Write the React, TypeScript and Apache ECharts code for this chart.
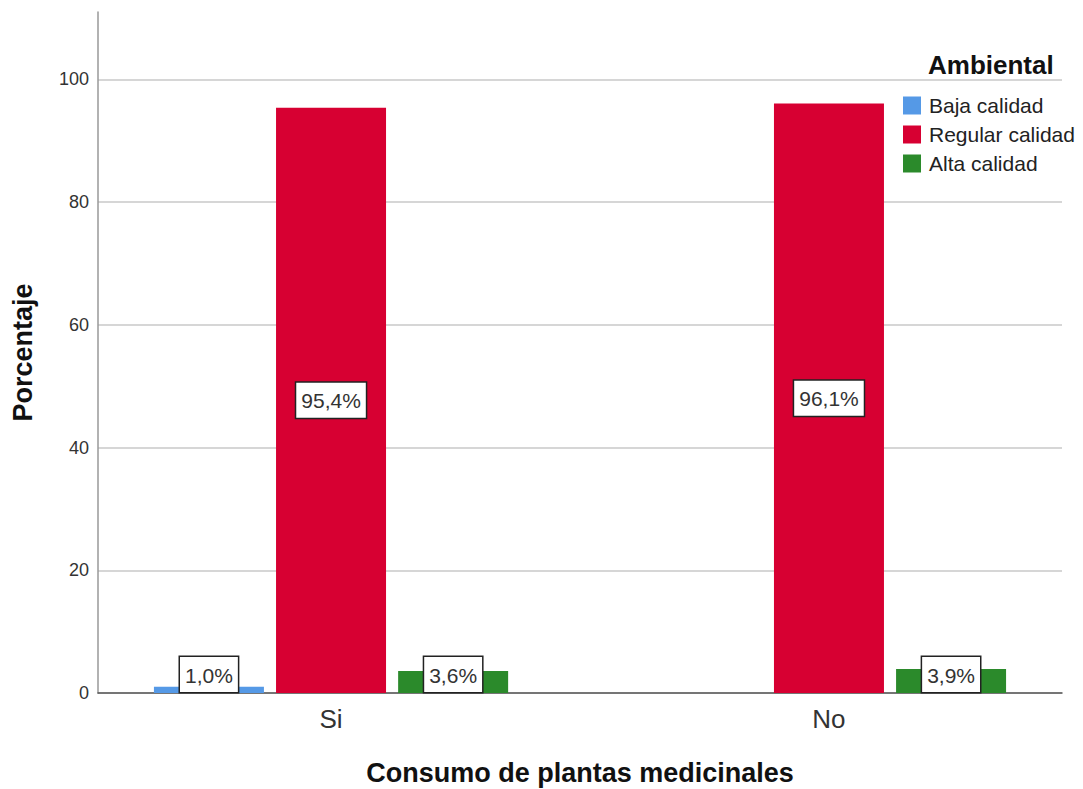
import React, { useEffect, useRef } from "react";
import * as echarts from "echarts";

const categories = ["Si", "No"];
const seriesNames = ["Baja calidad", "Regular calidad", "Alta calidad"];
const bajaValues: (number | null)[] = [1.0, null];
const regularValues: (number | null)[] = [95.4, 96.1];
const altaValues: (number | null)[] = [3.6, 3.9];
const yTicks = [0, 20, 40, 60, 80, 100];

const colors = ["#5599e6", "#d70032", "#2b8a2b"];
const FONT = "'Liberation Sans', Arial, sans-serif";

export default function App() {
  const ref = useRef<HTMLDivElement>(null);
  useEffect(() => {
    if (!ref.current) return;
    const chart = echarts.init(ref.current, null, { renderer: "svg" });
    const makeData = (vals: (number | null)[]) =>
      vals.map((v, i) =>
        v == null
          ? [i, null]
          : {
              value: [i, v],
              label: {
                position: v < 15 ? "insideBottom" : "inside",
                distance: 1,
              },
            }
      );
    const allVals = [bajaValues, regularValues, altaValues];
    const series = allVals.map((vals, si) => ({
      name: seriesNames[si],
      type: "bar",
      barWidth: 110,
      barGap: "11%",
      itemStyle: { color: colors[si] },
      data: makeData(vals),
      label: {
        show: true,
        formatter: (p: any) =>
          p.value[1].toFixed(1).replace(".", ",") + "%",
        fontSize: 21,
        fontFamily: FONT,
        color: "#333",
        backgroundColor: "#fff",
        borderColor: "#222",
        borderWidth: 1.5,
        padding: [8, 5, 6, 5],
      },
    }));
    chart.setOption({
      animation: false,
      backgroundColor: "#fff",
      textStyle: { fontFamily: FONT },
      title: {
        text: "Ambiental",
        left: 928,
        top: 52,
        padding: 0,
        textStyle: {
          fontFamily: FONT,
          fontWeight: "bold",
          fontSize: 26,
          color: "#111",
        },
      },
      legend: {
        orient: "vertical",
        left: 903,
        top: 95,
        padding: 0,
        itemWidth: 18,
        itemHeight: 18,
        itemGap: 8,
        icon: "rect",
        data: seriesNames,
        textStyle: {
          fontFamily: FONT,
          fontSize: 21,
          color: "#222",
          padding: [0, 0, 0, 3],
        },
      },
      grid: {
        left: 98,
        right: 21,
        top: 12,
        bottom: 96,
        containLabel: false,
        outerBoundsMode: "none",
      },
      xAxis: {
        type: "value",
        min: -0.468,
        max: 1.468,
        name: "Consumo de plantas medicinales",
        nameLocation: "middle",
        nameGap: 66,
        nameTextStyle: {
          fontFamily: FONT,
          fontWeight: "bold",
          fontSize: 27,
          color: "#111",
        },
        axisLine: { lineStyle: { color: "#555", width: 1.5 } },
        axisTick: { show: false },
        splitLine: { show: false },
        axisLabel: {
          customValues: categories.map((_, i) => i),
          formatter: (v: number) => categories[Math.round(v)] ?? "",
          fontSize: 26,
          fontFamily: FONT,
          color: "#333",
          margin: 13,
        },
      },
      yAxis: {
        type: "value",
        min: yTicks[0],
        max: 111,
        interval: 20,
        name: "Porcentaje",
        nameLocation: "middle",
        nameGap: 62,
        nameTextStyle: {
          fontFamily: FONT,
          fontWeight: "bold",
          fontSize: 27,
          color: "#111",
        },
        axisLine: {
          show: true,
          onZero: false,
          lineStyle: { color: "#999", width: 1.5 },
        },
        axisTick: { show: false },
        axisLabel: {
          showMaxLabel: false,
          fontSize: 18,
          fontFamily: FONT,
          color: "#333",
          margin: 9,
          padding: [8, 0, 0, 0],
        },
        splitLine: {
          show: true,
          showMaxLine: false,
          lineStyle: { color: "#c8c8c8", width: 1.5 },
        },
      },
      series,
    });
    return () => chart.dispose();
  }, []);
  return (
    <div
      ref={ref}
      style={{ position: "absolute", left: 0, top: 0, width: 1083, height: 789 }}
    />
  );
}
